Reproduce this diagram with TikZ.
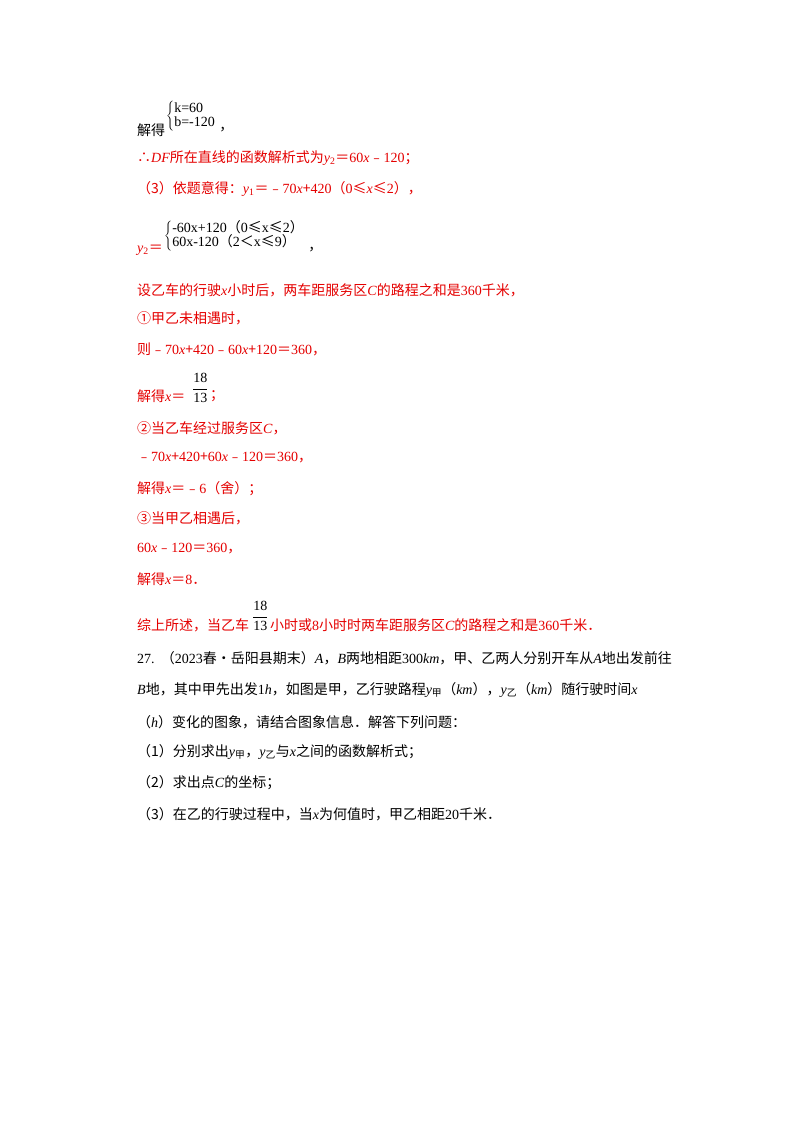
\documentclass[tikz,border=0pt]{standalone}
\usepackage{fontspec}
\setmainfont{Noto Sans CJK SC}
\newfontfamily\lat{Liberation Serif}
\newcommand\mi[1]{{\lat\itshape #1}}
\newcommand\nm[1]{{\lat #1}}
\newcommand\fr{$\displaystyle\frac{\mbox{\lat 18}}{\mbox{\lat 13}}$}
\begin{document}
\begin{tikzpicture}[x=1pt,y=-1pt,
  t/.style={anchor=west,inner sep=0pt,font=\fontsize{14}{16}\selectfont},
  r/.style={t,text=red!90!black}]
\useasboundingbox (0,0) rectangle (800,1132);
\fill[white] (0,0) rectangle (800,1132);
% system 1
\node[t] (s1) at (137,130) {解得};
\node[t] (b1) at (166,116) {$\left\{\begin{array}{@{}l}\mbox{\lat k=60}\\[-2pt]\mbox{\lat b=-120}\end{array}\right.$};
\node[t] (c1) at (b1.east) [xshift=-2pt,yshift=-14pt] {，};
\node[r] (l1) at (137,158) {∴\mi{DF}所在直线的函数解析式为\mi{y}\textsubscript{\nm{2}}＝\nm{60}\mi{x}﹣\nm{120}；};
\node[r] (l2) at (137,189) {（3）依题意得：\mi{y}\textsubscript{\nm{1}}＝﹣\nm{70}\mi{x}+\nm{420}（\nm{0}≤\mi{x}≤\nm{2}），};
\node[r] (l3) at (137,250) {\mi{y}\textsubscript{\nm{2}}＝};
\node[t] (b2) at (164,236) {$\left\{\begin{array}{@{}l}\mbox{\nm{-60x+120}（\nm{0}≤\nm{x}≤\nm{2}）}\\[-2pt]\mbox{\nm{60x-120}（\nm{2}＜\nm{x}≤\nm{9}）}\end{array}\right.$};
\node[t] (c2) at (b2.east) [xshift=-2pt,yshift=-14pt] {，};
\node[r] (l4) at (137,290) {设乙车的行驶\mi{x}小时后，两车距服务区\mi{C}的路程之和是\nm{360}千米，};
\node[r] (l5) at (137,318) {①甲乙未相遇时，};
\node[r] (l6) at (137,349) {则﹣\nm{70}\mi{x}+\nm{420}﹣\nm{60}\mi{x}+\nm{120}＝\nm{360}，};
\node[r] (l7) at (137,396) {解得\mi{x}＝};
\node[t] (f1) at (192,388) {\fr};
\node[r] (l7b) at (f1.east) [xshift=1pt,yshift=-8pt] {；};
\node[r] (l8) at (137,428) {②当乙车经过服务区\mi{C}，};
\node[r] (l9) at (137,458) {﹣\nm{70}\mi{x}+\nm{420}+\nm{60}\mi{x}﹣\nm{120}＝\nm{360}，};
\node[r] (l10) at (137,489) {解得\mi{x}＝﹣\nm{6}（舍）；};
\node[r] (l11) at (137,518) {③当甲乙相遇后，};
\node[r] (l12) at (137,549) {\nm{60}\mi{x}﹣\nm{120}＝\nm{360}，};
\node[r] (l13) at (137,579) {解得\mi{x}＝\nm{8}．};
\node[r] (l14) at (137,625) {综上所述，当乙车};
\node[t] (f2) at (252,616) {\fr};
\node[r] (l14b) at (f2.east) [xshift=1pt,yshift=-9pt] {小时或\nm{8}小时时两车距服务区\mi{C}的路程之和是\nm{360}千米．};
\node[t] (q1) at (137,658) {\nm{27.}\ \ （\nm{2023}春•岳阳县期末）\mi{A}，\mi{B}两地相距\nm{300}\mi{km}，甲、乙两人分别开车从\mi{A}地出发前往};
\node[t] (q2) at (137,690) {\mi{B}地，其中甲先出发\nm{1}\mi{h}，如图是甲，乙行驶路程\mi{y}\textsubscript{甲}（\mi{km}），\mi{y}\textsubscript{乙}（\mi{km}）随行驶时间\mi{x}};
\node[t] (q3) at (137,722) {（\mi{h}）变化的图象，请结合图象信息．解答下列问题：};
\node[t] (q4) at (137,752) {（1）分别求出\mi{y}\textsubscript{甲}，\mi{y}\textsubscript{乙}与\mi{x}之间的函数解析式；};
\node[t] (q5) at (137,783) {（2）求出点\mi{C}的坐标；};
\node[t] (q6) at (137,814) {（3）在乙的行驶过程中，当\mi{x}为何值时，甲乙相距\nm{20}千米．};
\end{tikzpicture}
\end{document}
